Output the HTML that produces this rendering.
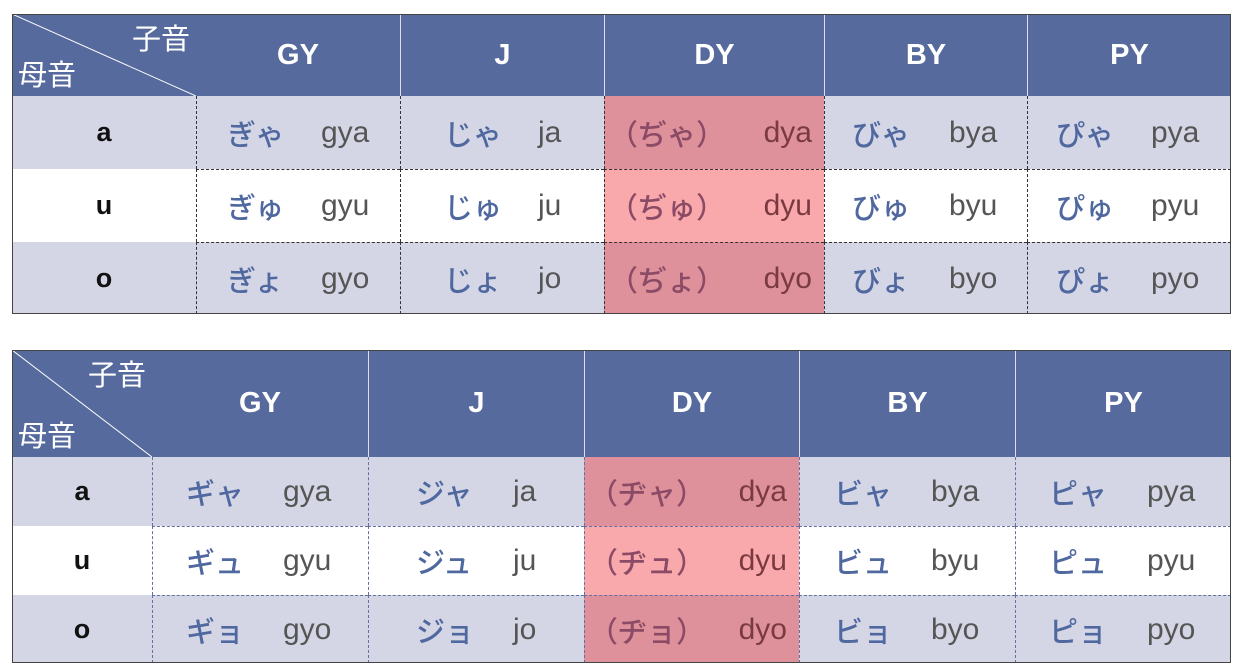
<!DOCTYPE html>
<html><head><meta charset="utf-8">
<style>
body{margin:0;width:1242px;height:670px;background:#fff;position:relative;overflow:hidden;font-family:"Liberation Sans","Noto Sans CJK JP",sans-serif}
.a{position:absolute;box-sizing:border-box}
.hd{background:#566a9e;color:#fff;font-weight:bold;font-size:29px;display:flex;align-items:center;justify-content:center}
.cell{display:block}
.t{position:absolute;top:50%;transform:translateY(-50%);white-space:nowrap;font-size:30px}
.k{color:#5068a0;font-family:"Noto Sans CJK JP",sans-serif;font-weight:500;font-size:29px}
.r{color:#555}
.lbl{font-weight:bold;color:#111;font-size:27px;display:flex;align-items:center;justify-content:center}
</style></head><body>
<script>
const consonants=["GY","J","DY","BY","PY"];
const vowels=["a","u","o"];
const hira=[["ぎゃ","ぎゅ","ぎょ"],["じゃ","じゅ","じょ"],["（ぢゃ）","（ぢゅ）","（ぢょ）"],["びゃ","びゅ","びょ"],["ぴゃ","ぴゅ","ぴょ"]];
const kata=[["ギャ","ギュ","ギョ"],["ジャ","ジュ","ジョ"],["（ヂャ）","（ヂュ）","（ヂョ）"],["ビャ","ビュ","ビョ"],["ピャ","ピュ","ピョ"]];
const roma=[["gya","gyu","gyo"],["ja","ju","jo"],["dya","dyu","dyo"],["bya","byu","byo"],["pya","pyu","pyo"]];
function box(x,y,w,h,cls){const d=document.createElement('div');d.className='a '+(cls||'');d.style.left=x+'px';d.style.top=y+'px';d.style.width=w+'px';d.style.height=h+'px';document.body.appendChild(d);return d;}
function table(name,left,right,top,hb,rows,cols,kana,offs){
  const frame=box(left,top,right-left,rows[3]-top);
  
  
  frame.style.border='1.5px solid #444';frame.style.zIndex=5;
  const corner=box(left,top,cols[0]-left,hb-top,'hd');
  
  
  corner.innerHTML='<svg style="position:absolute;left:0;top:0" width="'+(cols[0]-left)+'" height="'+(hb-top)+'"><line x1="0" y1="0" x2="'+(cols[0]-left)+'" y2="'+(hb-top)+'" stroke="#fff" stroke-width="1"/></svg><span style="position:absolute;right:6px;top:2px;font-weight:normal;font-size:29px;font-family:\'Noto Sans CJK JP\',sans-serif">子音</span><span style="position:absolute;left:6px;bottom:2px;font-weight:normal;font-size:29px;font-family:\'Noto Sans CJK JP\',sans-serif">母音</span>';
  for(let c=0;c<5;c++){
    const h=box(cols[c],top,cols[c+1]-cols[c],hb-top,'hd');
    
    
    h.textContent=consonants[c];
    if(c>0)h.style.borderLeft='1px solid #dde';
  }
  for(let r=0;r<3;r++){
    const y=rows[r],hh=rows[r+1]-rows[r];
    const bg=r==1?'#fff':'#d4d6e5';
    const l=box(left,y,cols[0]-left,hh,'lbl');
    
    
    l.style.background=bg;l.textContent=vowels[r];
    for(let c=0;c<5;c++){
      const red=c==2;
      const cell=box(cols[c],y,cols[c+1]-cols[c],hh,'cell');
      
      
      cell.style.background=red?(r==1?'#f9a9ac':'#df919b'):bg;
      cell.style.borderLeft='1.5px dashed '+(name=='hiragana-table'?'#333':'#6670a0');
      if(r>0)cell.style.borderTop='1.5px dashed '+(name=='hiragana-table'?'#333':'#6670a0');
      const k=document.createElement('span');k.className='t k';k.textContent=kana[c][r];
      
      
      const ro=document.createElement('span');ro.className='t r';ro.textContent=roma[c][r];
      
      
      if(red){k.style.left='4px';k.style.color='#8b4a66';ro.style.right='12px';ro.style.color='#7a3a40';}
      else{k.style.left=offs[c][0]+'px';ro.style.left=offs[c][1]+'px';}
      cell.appendChild(k);cell.appendChild(ro);
    }
  }
}
table('hiragana-table',12,1231,14,96,[96,169,242,314],[196,400,604,824,1027,1231],hira,[[30,124],[43,137],[0,0],[27,124],[28,123]]);
table('katakana-table',12,1231,350,457,[457,526,595,663],[152,368,584,799,1015,1231],kata,[[33,130],[47,144],[0,0],[34,131],[33,131]]);
</script>
</body></html>
